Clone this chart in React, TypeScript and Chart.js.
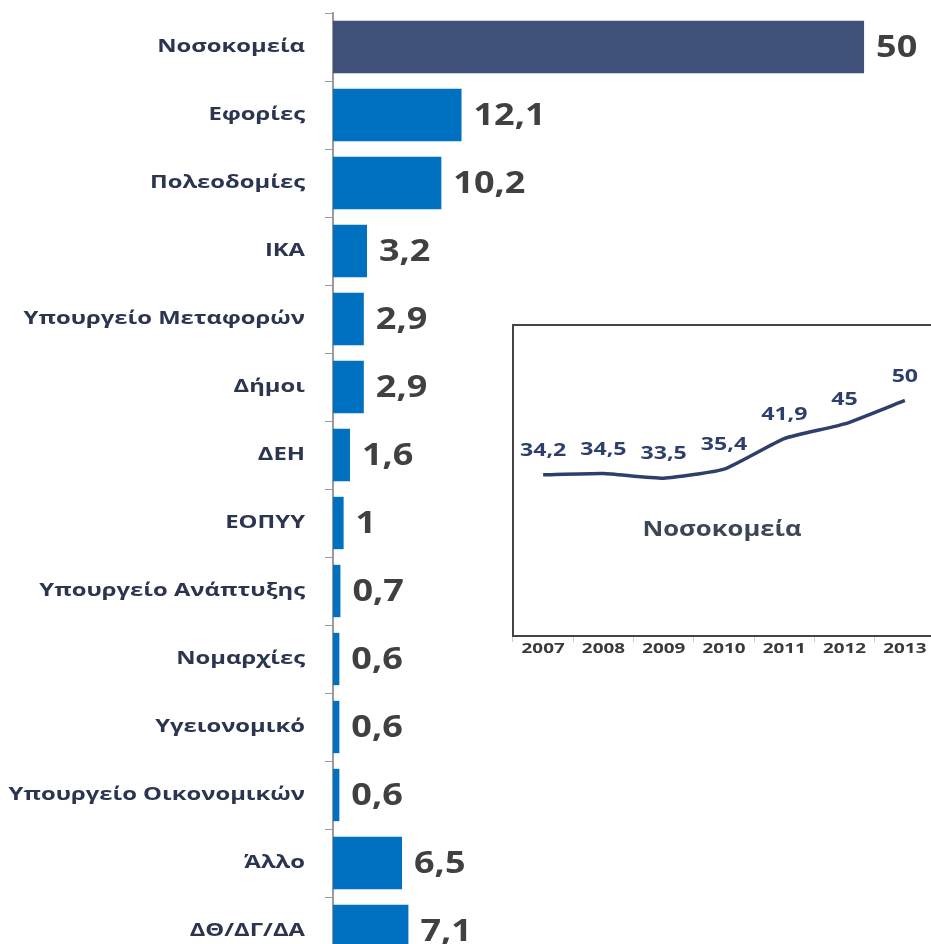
import React, { useEffect, useRef } from "react";
import { Chart, registerables } from "chart.js";

Chart.register(...registerables);

const categories = [
  "Νοσοκομεία",
  "Εφορίες",
  "Πολεοδομίες",
  "ΙΚΑ",
  "Υπουργείο Μεταφορών",
  "Δήμοι",
  "ΔΕΗ",
  "ΕΟΠΥΥ",
  "Υπουργείο Ανάπτυξης",
  "Νομαρχίες",
  "Υγειονομικό",
  "Υπουργείο Οικονομικών",
  "Άλλο",
  "ΔΘ/ΔΓ/ΔΑ",
];
const values = [50, 12.1, 10.2, 3.2, 2.9, 2.9, 1.6, 1, 0.7, 0.6, 0.6, 0.6, 6.5, 7.1];
const barColors = categories.map((_, i) => (i === 0 ? "#3f5079" : "#0070c0"));

const years = ["2007", "2008", "2009", "2010", "2011", "2012", "2013"];
const hospitalTrend = [34.2, 34.5, 33.5, 35.4, 41.9, 45, 50];
const insetTitle = "Νοσοκομεία";

const fmt = (v: number) => String(v).replace(".", ",");

const FONT = "'Open Sans', 'Noto Sans', sans-serif";

function drawText(
  ctx: CanvasRenderingContext2D,
  text: string,
  x: number,
  y: number,
  size: number,
  sx: number,
  color: string,
  align: CanvasTextAlign
) {
  ctx.save();
  ctx.font = `bold ${size}px ${FONT}`;
  ctx.fillStyle = color;
  ctx.textAlign = align;
  ctx.textBaseline = "middle";
  ctx.translate(x, y);
  ctx.scale(sx, 1);
  ctx.fillText(text, 0, 0);
  ctx.restore();
}

const barLabelPlugin = {
  id: "barLabels",
  afterDatasetsDraw(chart: any) {
    const ctx = chart.ctx;
    const meta = chart.getDatasetMeta(0);
    const yScale = chart.scales.y;
    meta.data.forEach((el: any, i: number) => {
      drawText(ctx, fmt(values[i]), el.x + 12, el.y + 1, 30, 1.2, "#404040", "left");
      const ly = yScale.getPixelForValue(i);
      drawText(ctx, categories[i], 305, ly, 17.5, 1.36, "#2b3550", "right");
    });
  },
};

const boxPlugin = {
  id: "boxBorder",
  afterDraw(chart: any) {
    const { ctx, chartArea } = chart;
    ctx.save();
    ctx.strokeStyle = "#444";
    ctx.lineWidth = 2;
    ctx.strokeRect(chartArea.left, chartArea.top, chartArea.right - chartArea.left, chartArea.bottom - chartArea.top);
    ctx.restore();
  },
};

const lineLabelPlugin = {
  id: "lineLabels",
  afterDatasetsDraw(chart: any) {
    const ctx = chart.ctx;
    const meta = chart.getDatasetMeta(0);
    const { chartArea } = chart;
    const xScale = chart.scales.x;
    meta.data.forEach((el: any, i: number) => {
      drawText(ctx, fmt(hospitalTrend[i]), el.x, el.y - 24, 18.5, 1.25, "#2f3f6b", "center");
      drawText(ctx, years[i], xScale.getPixelForValue(i), chartArea.bottom + 13, 14.5, 1.3, "#3a3a3a", "center");
    });
    drawText(ctx, insetTitle, 722 - 503, 530 - 315, 21, 1.22, "#3c4657", "center");
  },
};

export default function App() {
  const barRef = useRef<HTMLCanvasElement>(null);
  const lineRef = useRef<HTMLCanvasElement>(null);

  useEffect(() => {
    const bar = new Chart(barRef.current!, {
      type: "bar",
      data: {
        labels: categories,
        datasets: [
          {
            data: values,
            backgroundColor: barColors,
            borderWidth: 0,
            barPercentage: 0.77,
            categoryPercentage: 1,
          },
        ],
      },
      options: {
        indexAxis: "y",
        animation: false,
        responsive: false,
        maintainAspectRatio: false,
        layout: { padding: { top: 13, bottom: 0, left: 0, right: 0 } },
        plugins: { legend: { display: false }, tooltip: { enabled: false } },
        scales: {
          x: { display: false, min: 0, max: 56.3 },
          y: {
            offset: true,
            afterFit: (s: any) => {
              s.width = 333;
              s.paddingTop = 0;
              s.paddingBottom = 0;
            },
            border: { display: true, color: "#9a9a9a", width: 2 },
            grid: {
              display: true,
              offset: true,
              drawOnChartArea: false,
              drawTicks: true,
              tickLength: 8,
              color: "#9a9a9a",
              lineWidth: 1,
            },
            ticks: { display: false },
          },
        },
      },
      plugins: [barLabelPlugin],
    });

    const line = new Chart(lineRef.current!, {
      type: "line",
      data: {
        labels: years,
        datasets: [
          {
            data: hospitalTrend,
            borderColor: "#2f3f6b",
            borderWidth: 3.5,
            pointRadius: 0,
            tension: 0.15,
            fill: false,
          },
        ],
      },
      options: {
        animation: false,
        responsive: false,
        maintainAspectRatio: false,
        layout: { padding: { top: 10, left: 10, right: 0, bottom: 0 } },
        plugins: { legend: { display: false }, tooltip: { enabled: false } },
        scales: {
          x: {
            offset: true,
            afterFit: (s: any) => {
              s.height = 29;
              s.paddingLeft = 0;
              s.paddingRight = 0;
            },
            border: { display: false },
            grid: {
              display: true,
              offset: true,
              drawOnChartArea: false,
              drawTicks: true,
              tickLength: 6,
              color: "#cccccc",
            },
            ticks: { display: false },
          },
          y: { display: false, min: 0, max: 66 },
        },
      },
      plugins: [lineLabelPlugin, boxPlugin],
    });

    return () => {
      bar.destroy();
      line.destroy();
    };
  }, []);

  return (
    <div
      style={{
        position: "fixed",
        left: 0,
        top: 0,
        width: 931,
        height: 944,
        overflow: "hidden",
        background: "#fff",
      }}
    >
      <canvas ref={barRef} width={931} height={965} style={{ position: "absolute", left: 0, top: 0 }} />
      <canvas
        ref={lineRef}
        width={432}
        height={350}
        style={{ position: "absolute", left: 503, top: 315, background: "#fff" }}
      />
    </div>
  );
}
